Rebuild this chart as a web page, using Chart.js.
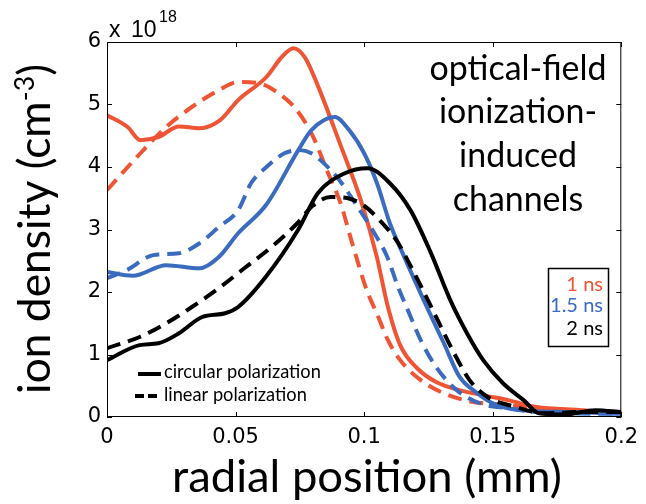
<!DOCTYPE html>
<html>
<head>
<meta charset="utf-8">
<script src="https://cdn.jsdelivr.net/npm/chart.js@4"></script>
<style>
  body { margin: 0; background: #fff; }
  #wrap { width: 646px; height: 504px; position: relative; }
</style>
</head>
<body>
<div id="wrap"><canvas id="myChart"></canvas></div>
<script>

// radial position (mm) / ion density (x 1e18 cm^-3)
let posRedSolid = [0, 0.008, 0.013, 0.02, 0.028, 0.036, 0.044, 0.051, 0.062, 0.068, 0.0725, 0.077, 0.0817, 0.091, 0.0987, 0.105, 0.109, 0.114, 0.1206, 0.128, 0.137, 0.146, 0.156, 0.167, 0.185, 0.2];
let denRedSolid = [4.83, 4.64, 4.43, 4.48, 4.65, 4.62, 4.75, 5.07, 5.44, 5.76, 5.9, 5.75, 5.33, 4.33, 3.47, 2.55, 1.8, 1.15, 0.78, 0.56, 0.43, 0.35, 0.27, 0.16, 0.11, 0.06];

let posRedDash = [0, 0.013, 0.023, 0.033, 0.0435, 0.051, 0.059, 0.066, 0.073, 0.0795, 0.086, 0.091, 0.095, 0.101, 0.105, 0.109, 0.114, 0.122, 0.131, 0.1425, 0.154, 0.17, 0.2];
let denRedDash = [3.63, 4.22, 4.64, 4.96, 5.23, 5.36, 5.34, 5.2, 4.95, 4.54, 3.9, 3.4, 2.83, 2.03, 1.65, 1.25, 0.91, 0.59, 0.38, 0.24, 0.2, 0.12, 0.07];

let posBlueSolid = [0, 0.01, 0.023, 0.036, 0.0435, 0.051, 0.062, 0.0744, 0.0795, 0.0886, 0.094, 0.1, 0.105, 0.11, 0.1155, 0.1245, 0.131, 0.137, 0.144, 0.15, 0.16, 0.18, 0.2];
let denBlueSolid = [2.32, 2.26, 2.43, 2.38, 2.56, 2.94, 3.4, 4.27, 4.59, 4.8, 4.6, 4.22, 3.74, 3.1, 2.57, 1.75, 1.18, 0.65, 0.38, 0.22, 0.11, 0.08, 0.05];

let posBlueDash = [0, 0.0077, 0.018, 0.028, 0.036, 0.0435, 0.051, 0.056, 0.062, 0.069, 0.075, 0.0795, 0.083, 0.0898, 0.0975, 0.104, 0.109, 0.113, 0.117, 0.122, 0.128, 0.136, 0.145, 0.156, 0.17, 0.2];
let denBlueDash = [2.22, 2.35, 2.59, 2.62, 2.78, 3.04, 3.31, 3.74, 4.0, 4.22, 4.27, 4.22, 4.11, 3.82, 3.36, 2.94, 2.56, 2.1, 1.71, 1.23, 0.8, 0.43, 0.22, 0.14, 0.07, 0.05];

let posBlackSolid = [0, 0.0127, 0.02, 0.028, 0.037, 0.046, 0.051, 0.0617, 0.0744, 0.082, 0.0925, 0.1013, 0.11, 0.118, 0.1257, 0.1335, 0.14, 0.1463, 0.154, 0.162, 0.168, 0.178, 0.19, 0.2];
let denBlackSolid = [0.91, 1.15, 1.18, 1.34, 1.6, 1.66, 1.76, 2.24, 3.0, 3.58, 3.9, 3.98, 3.74, 3.31, 2.65, 1.87, 1.34, 0.91, 0.54, 0.27, 0.06, 0.04, 0.11, 0.08];

let posBlackDash = [0, 0.0127, 0.023, 0.033, 0.0435, 0.054, 0.064, 0.074, 0.08, 0.087, 0.0937, 0.1, 0.106, 0.113, 0.118, 0.122, 0.128, 0.135, 0.141, 0.148, 0.159, 0.17, 0.185, 0.2];
let denBlackDash = [1.1, 1.28, 1.5, 1.76, 2.06, 2.4, 2.72, 3.1, 3.38, 3.52, 3.5, 3.38, 3.15, 2.8, 2.42, 2.1, 1.6, 1.02, 0.59, 0.32, 0.16, 0.06, 0.08, 0.08];

let xTickVals = [0, 0.05, 0.1, 0.15, 0.2];
let yTickVals = [0, 1, 2, 3, 4, 5, 6];

let timeLabels = ['1 ns', '1.5 ns', '2 ns'];
let polLabels = ['circular polarization', 'linear polarization'];
let noteLines = ['optical-field', 'ionization-', 'induced', 'channels'];

const RED = '#ef5534', BLUE = '#3a6bbf', BLACK = '#000000';

let pts = (xs, ys) => xs.map((x, i) => ({ x: x, y: ys[i] }));

let line = (xs, ys, color, dashed) => ({
  data: pts(xs, ys),
  borderColor: color,
  borderWidth: 4,
  borderDash: dashed ? [14, 8] : [],
  showLine: true,
  pointRadius: 0,
  cubicInterpolationMode: 'monotone',
  fill: false
});

let fitSize = (ctx, text, family, width) => {
  ctx.font = '100px ' + family;
  return 100 * width / ctx.measureText(text).width;
};

const extras = {
  id: 'extras',
  afterDraw(chart) {
    const ctx = chart.ctx, a = chart.chartArea;
    const sx = chart.scales.x, sy = chart.scales.y;
    ctx.save();

    // box + inward ticks (matlab style)
    ctx.strokeStyle = '#000';
    ctx.lineWidth = 1;
    ctx.strokeRect(a.left + 0.5, a.top + 0.5, a.right - a.left - 1, a.bottom - a.top - 1);
    ctx.beginPath();
    xTickVals.forEach(v => {
      const p = Math.round(sx.getPixelForValue(v)) + 0.5;
      ctx.moveTo(p, a.bottom); ctx.lineTo(p, a.bottom - 5);
      ctx.moveTo(p, a.top); ctx.lineTo(p, a.top + 5);
    });
    yTickVals.forEach(v => {
      const p = Math.round(sy.getPixelForValue(v)) + 0.5;
      ctx.moveTo(a.left, p); ctx.lineTo(a.left + 5, p);
      ctx.moveTo(a.right, p); ctx.lineTo(a.right - 5, p);
    });
    ctx.stroke();

    // exponent
    ctx.fillStyle = '#000';
    ctx.textAlign = 'left';
    ctx.textBaseline = 'alphabetic';
    ctx.font = '23px "Liberation Sans"';
    ctx.fillText('x', 109, 37);
    ctx.fillText('10', 131, 37);
    ctx.font = '16px "Liberation Sans"';
    ctx.fillText('18', 159, 22);

    // x title
    let s = fitSize(ctx, 'radial position (mm)', 'Lato', 390);
    ctx.font = s + 'px Lato';
    ctx.textAlign = 'center';
    ctx.fillText('radial position (mm)', 367, 492);

    // y title with superscript
    ctx.font = '100px Lato';
    const w1 = ctx.measureText('ion density (cm').width;
    const w3 = ctx.measureText(')').width;
    ctx.font = '60px Lato';
    const w2 = ctx.measureText('-3').width;
    s = 330 * 100 / (w1 + w2 + w3);
    ctx.save();
    ctx.translate(50, 229);
    ctx.rotate(-Math.PI / 2);
    ctx.textAlign = 'left';
    let cx = -165;
    ctx.font = s + 'px Lato';
    ctx.fillText('ion density (cm', cx, 0);
    cx += w1 * s / 100;
    ctx.font = (s * 0.6) + 'px Lato';
    ctx.fillText('-3', cx, -s * 0.36);
    cx += w2 * s / 100;
    ctx.font = s + 'px Lato';
    ctx.fillText(')', cx, 0);
    ctx.restore();

    // note text
    s = fitSize(ctx, noteLines[0], 'Lato', 177);
    ctx.font = s + 'px Lato';
    ctx.textAlign = 'center';
    [80, 123, 167, 211].forEach((y, i) => ctx.fillText(noteLines[i], 518, y));

    // time legend box
    ctx.lineWidth = 1.5;
    ctx.strokeRect(548.5, 268.5, 60, 78);
    s = fitSize(ctx, timeLabels[1], 'Lato', 53);
    ctx.font = s + 'px Lato';
    ctx.textAlign = 'right';
    [RED, BLUE, BLACK].forEach((c, i) => {
      ctx.fillStyle = c;
      ctx.fillText(timeLabels[i], 603, [291, 312, 335][i]);
    });

    // polarization legend
    ctx.fillStyle = '#000';
    ctx.strokeStyle = '#000';
    ctx.lineWidth = 4;
    ctx.beginPath(); ctx.moveTo(138, 374); ctx.lineTo(161, 374); ctx.stroke();
    ctx.setLineDash([9, 4]);
    ctx.beginPath(); ctx.moveTo(135, 396); ctx.lineTo(161, 396); ctx.stroke();
    ctx.setLineDash([]);
    s = fitSize(ctx, polLabels[0], 'Lato', 157);
    ctx.font = s + 'px Lato';
    ctx.textAlign = 'left';
    ctx.fillText(polLabels[0], 164, 378);
    ctx.fillText(polLabels[1], 164, 401);

    ctx.restore();
  }
};

let plot = () => {
  const ctx = document.getElementById('myChart');
  const dataset = {
    datasets: [
      line(posBlackSolid, denBlackSolid, BLACK, false),
      line(posBlackDash, denBlackDash, BLACK, true),
      line(posBlueSolid, denBlueSolid, BLUE, false),
      line(posBlueDash, denBlueDash, BLUE, true),
      line(posRedSolid, denRedSolid, RED, false),
      line(posRedDash, denRedDash, RED, true)
    ]
  };
  const config = {
    type: 'scatter',
    data: dataset,
    options: {
      responsive: true,
      maintainAspectRatio: false,
      animation: false,
      layout: { padding: { left: 0, top: 42, right: 20, bottom: 0 } },
      plugins: { legend: { display: false }, tooltip: { enabled: false } },
      scales: {
        x: {
          type: 'linear', min: 0, max: 0.2,
          afterBuildTicks: (sc) => { sc.ticks = xTickVals.map(v => ({ value: v })); },
          afterFit: (sc) => { sc.height = 87; },
          grid: { display: false, drawTicks: false },
          border: { display: false },
          ticks: { padding: 8, color: '#000', maxRotation: 0, autoSkip: false,
                   font: { family: 'DejaVu Sans', size: 21 }, callback: (v) => String(v) }
        },
        y: {
          type: 'linear', min: 0, max: 6,
          afterBuildTicks: (sc) => { sc.ticks = yTickVals.map(v => ({ value: v })); },
          afterFit: (sc) => { sc.width = 107; },
          grid: { display: false, drawTicks: false },
          border: { display: false },
          ticks: { padding: 6, color: '#000', autoSkip: false,
                   font: { family: 'DejaVu Sans', size: 21 }, callback: (v) => String(v) }
        }
      }
    },
    plugins: [extras]
  };
  new Chart(ctx, config);
};

plot();
</script>
</body>
</html>
